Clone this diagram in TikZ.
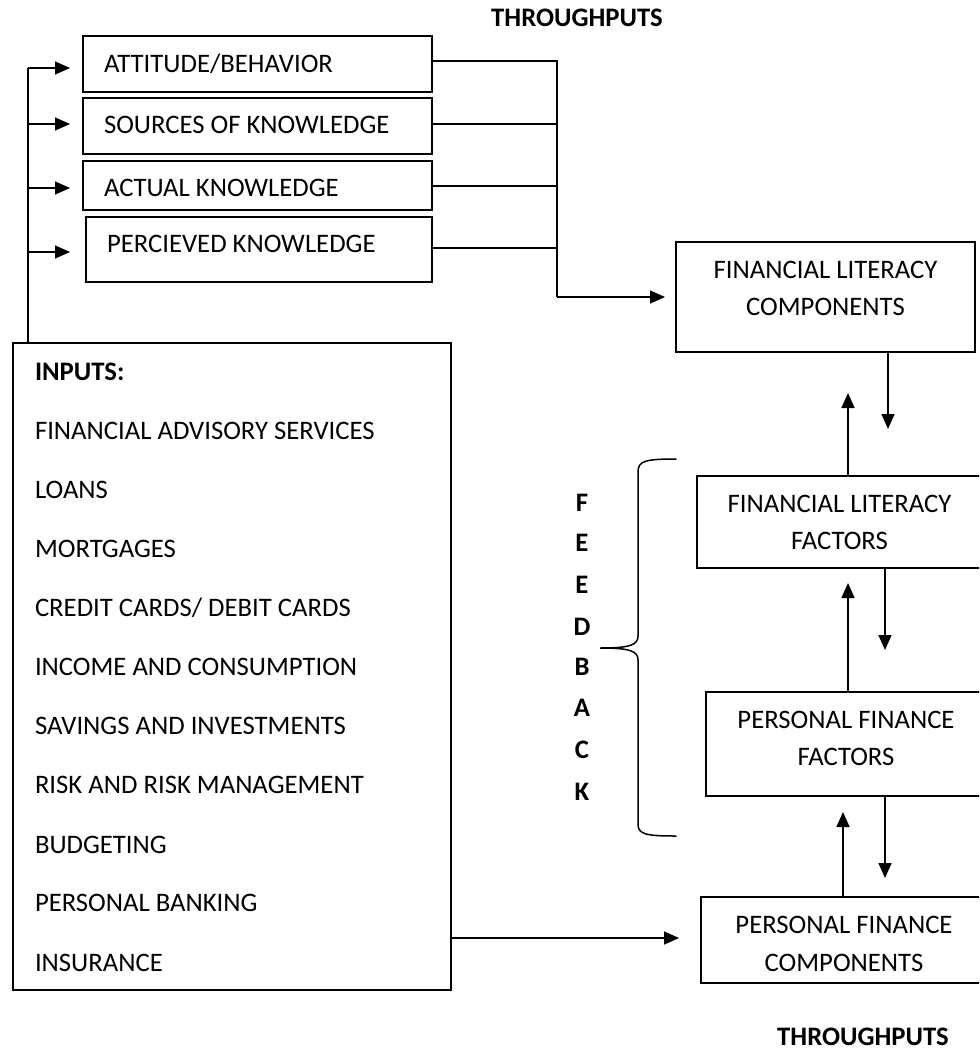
\documentclass[tikz,border=0pt]{standalone}
\usepackage{fontspec}
\setmainfont{Carlito}
\usetikzlibrary{arrows.meta}
\tikzset{
  box/.style={draw, line width=1.7pt, inner sep=0pt, outer sep=0pt},
  txt/.style={inner sep=0pt, outer sep=0pt, font=\fontsize{26.7}{37}\selectfont},
  btxt/.style={txt, font=\fontsize{26.7}{37}\selectfont\bfseries},
  conn/.style={line width=1.6pt},
  arr/.style={conn, -{Triangle[length=15pt,width=13pt]}},
}
\begin{document}
\begin{tikzpicture}[x=1pt,y=-1pt]
\clip (0,0) rectangle (979,1051);
\fill[white] (0,0) rectangle (979,1051);

% left boxes
\node[box, minimum width=349pt, minimum height=56pt] (att) at (257.5,64) {};
\node[box, minimum width=349pt, minimum height=56pt] (src) at (257.5,126) {};
\node[box, minimum width=349pt, minimum height=49pt] (act) at (257.5,185.5) {};
\node[box, minimum width=346pt, minimum height=65pt] (per) at (259,249.5) {};
\node[txt, anchor=base west] (attT) at (104,73) {ATTITUDE/BEHAVIOR};
\node[txt, anchor=base west] (srcT) at (104,133.5) {SOURCES OF KNOWLEDGE};
\node[txt, anchor=base west] (actT) at (104,196.5) {ACTUAL KNOWLEDGE};
\node[txt, anchor=base west] (perT) at (107,252.5) {PERCIEVED KNOWLEDGE};

% inputs box
\node[box, minimum width=438pt, minimum height=647pt] (inp) at (232,666.5) {};
\node[btxt, anchor=base west] (i0) at (35,380.5) {INPUTS:};
\node[txt, anchor=base west] (i1) at (35,439) {FINANCIAL ADVISORY SERVICES};
\node[txt, anchor=base west] (i2) at (35,498) {LOANS};
\node[txt, anchor=base west] (i3) at (35,557.5) {MORTGAGES};
\node[txt, anchor=base west] (i4) at (35,616.5) {CREDIT CARDS/ DEBIT CARDS};
\node[txt, anchor=base west] (i5) at (35,675.5) {INCOME AND CONSUMPTION};
\node[txt, anchor=base west] (i6) at (35,734.5) {SAVINGS AND INVESTMENTS};
\node[txt, anchor=base west] (i7) at (35,793.5) {RISK AND RISK MANAGEMENT};
\node[txt, anchor=base west] (i8) at (35,853) {BUDGETING};
\node[txt, anchor=base west] (i9) at (35,911.5) {PERSONAL BANKING};
\node[txt, anchor=base west] (i10) at (35,971) {INSURANCE};

% right boxes
\node[box, minimum width=299pt, minimum height=110pt] (flc) at (825.5,297) {};
\node[box, minimum width=285pt, minimum height=92pt] (flf) at (839.5,522) {};
\node[box, minimum width=280pt, minimum height=104pt] (pff) at (846,744) {};
\node[box, minimum width=286pt, minimum height=86pt] (pfc) at (844,940) {};
\node[txt, anchor=base] (flc1) at (825.5,278.5) {FINANCIAL LITERACY};
\node[txt, anchor=base] (flc2) at (825.5,315.5) {COMPONENTS};
\node[txt, anchor=base] (flf1) at (839.5,512.5) {FINANCIAL LITERACY};
\node[txt, anchor=base] (flf2) at (839.5,549.5) {FACTORS};
\node[txt, anchor=base] (pff1) at (846,728.5) {PERSONAL FINANCE};
\node[txt, anchor=base] (pff2) at (846,765.5) {FACTORS};
\node[txt, anchor=base] (pfc1) at (844,933.5) {PERSONAL FINANCE};
\node[txt, anchor=base] (pfc2) at (844,971.5) {COMPONENTS};

% titles
\node[btxt, anchor=base] (thr1) at (577,26.5) {THROUGHPUTS};
\node[btxt, anchor=base] (thr2) at (863,1045) {THROUGHPUTS};

% feedback letters
\foreach \l/\y [count=\i] in {F/511.5,E/551.5,E/593.5,D/635.5,B/675.5,A/716.5,C/758.5,K/800.5}
  \node[btxt, anchor=base] (fb\i) at (582,\y) {\l};

% left spine and arrows
\coordinate (s1) at (28,68);
\coordinate (s2) at (28,124);
\coordinate (s3) at (28,188);
\coordinate (s4) at (28,252);
\draw[conn] (s1 |- inp.north) -- (s1);
\draw[arr, shorten >=13pt] (s1) -- (s1 -| att.west);
\draw[arr, shorten >=13pt] (s2) -- (s2 -| src.west);
\draw[arr, shorten >=13pt] (s3) -- (s3 -| act.west);
\draw[arr, shorten >=16pt] (s4) -- (s4 -| per.west);

% right collector
\coordinate (j) at (557,297);
\coordinate (r1) at (432,61);
\coordinate (r2) at (432,124);
\coordinate (r3) at (432,186);
\coordinate (r4) at (432,248);
\draw[conn] (r1) -| (j);
\draw[conn] (r2) -- (r2 -| j);
\draw[conn] (r3) -- (r3 -| j);
\draw[conn] (r4) -- (r4 -| j);
\draw[arr, shorten >=11pt] (j) -- (flc.west);

% vertical arrows on the right
\coordinate (t1) at (888,429);
\coordinate (t2) at (848,393);
\coordinate (t3) at (885,650);
\coordinate (t4) at (848,583);
\coordinate (t5) at (885,878);
\coordinate (t6) at (843,812);
\coordinate (t7) at (679,938);
\draw[arr] (t1 |- flc.south) -- (t1);
\draw[arr] (t2 |- flf.north) -- (t2);
\draw[arr] (t3 |- flf.south) -- (t3);
\draw[arr] (t4 |- pff.north) -- (t4);
\draw[arr] (t5 |- pff.south) -- (t5);
\draw[arr] (t6 |- pfc.north) -- (t6);
\draw[arr] (t7 -| inp.east) -- (t7);

% brace
\draw[line width=1.5pt, line cap=round]
  (676,459) .. controls (645,459) and (638,461) .. (638,472)
  -- (638,636)
  .. controls (638,645) and (630,648) .. (600,648)
  .. controls (630,648) and (638,651) .. (638,660)
  -- (638,824)
  .. controls (638,834) and (645,836) .. (676,836);
\end{tikzpicture}
\end{document}
